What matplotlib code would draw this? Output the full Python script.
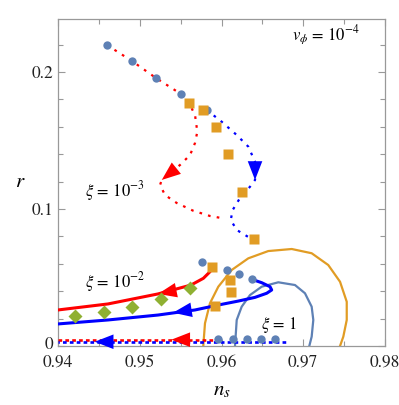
import matplotlib
matplotlib.use("Agg")
import matplotlib.pyplot as plt
import matplotlib.transforms as mtransforms

# colours (Mathematica default palette + pure red/blue)
c_blue_pt = '#5E81B5'
c_orange = '#E19C24'
c_green = '#8FB032'

# xi = 1e-3 (dotted) flows
red_dot_ns = [0.94599, 0.94905, 0.95199, 0.95505, 0.95602, 0.95676, 0.95704, 0.95676, 0.95615,
              0.95492, 0.95370, 0.95269, 0.95248, 0.95309, 0.95452, 0.95651, 0.95859, 0.96018]
red_dot_r = [0.2197, 0.2080, 0.1956, 0.1839, 0.1774, 0.1686, 0.1564, 0.1482, 0.1394,
             0.1321, 0.1263, 0.1212, 0.1175, 0.1102, 0.1044, 0.0988, 0.0949, 0.0932]
blue_dot_ns = [0.95819, 0.96002, 0.96186, 0.96328, 0.96410, 0.96416, 0.96410, 0.96349, 0.96226,
               0.96137, 0.96113, 0.96186, 0.96349, 0.96398]
blue_dot_r = [0.1723, 0.1637, 0.1540, 0.1455, 0.1345, 0.1270, 0.1212, 0.1163, 0.1080,
              0.0993, 0.0920, 0.0847, 0.0788, 0.0779]

# xi = 1e-2 (solid) flows
red_sol_ns = [0.94000, 0.94612, 0.95223, 0.95627, 0.95778, 0.95859, 0.95887]
red_sol_r = [0.0263, 0.0307, 0.0380, 0.0445, 0.0494, 0.0542, 0.0579]
blue_sol_ns = [0.94000, 0.94612, 0.95223, 0.95676, 0.95920, 0.96002, 0.96206, 0.96410, 0.96553,
               0.96614, 0.96593, 0.96492, 0.96369]
blue_sol_r = [0.0161, 0.0190, 0.0226, 0.0263, 0.0294, 0.0304, 0.0328, 0.0355, 0.0385,
              0.0409, 0.0433, 0.0462, 0.0487]

# xi = 1 (dashed) flows
red_dash_ns = [0.94000, 0.95917]
red_dash_r = [0.0046, 0.0046]
blue_dash_ns = [0.94000, 0.96798]
blue_dash_r = [0.0031, 0.0031]

# xi = 1 contour (steel blue) and outer contour (orange)
arc_blue_ns = [0.96165, 0.96186, 0.96247, 0.96349, 0.96492, 0.96695, 0.96899, 0.97021, 0.97103,
               0.97123, 0.97103, 0.97074]
arc_blue_r = [0.0, 0.0190, 0.0287, 0.0372, 0.0433, 0.0465, 0.0445, 0.0385, 0.0287, 0.0190, 0.0068, 0.0]
arc_orange_ns = [0.95777, 0.95798, 0.95859, 0.95961, 0.96125, 0.96328, 0.96572, 0.96859, 0.97103,
                 0.97306, 0.97450, 0.97532, 0.97532, 0.97490, 0.97450]
arc_orange_r = [0.0, 0.0166, 0.0312, 0.0433, 0.0555, 0.0640, 0.0693, 0.0708, 0.0677,
                0.0591, 0.0469, 0.0323, 0.0190, 0.0068, 0.0]

# markers
circ_ns = [0.94599, 0.94905, 0.95202, 0.95505, 0.95819,
           0.95765, 0.96064, 0.96218, 0.96369,
           0.95961, 0.96137, 0.96308, 0.96483, 0.96654]
circ_r = [0.2197, 0.2080, 0.1958, 0.1839, 0.1723,
          0.0615, 0.0555, 0.0523, 0.0487,
          0.0049, 0.0049, 0.0049, 0.0049, 0.0049]
sq_ns = [0.95606, 0.95770, 0.95929, 0.96083, 0.96247, 0.96401,
         0.95887, 0.96104, 0.96113, 0.95920]
sq_r = [0.1772, 0.1723, 0.1596, 0.1401, 0.1126, 0.0779,
        0.0579, 0.0482, 0.0392, 0.0294]
dia_ns = [0.94204, 0.94563, 0.94909, 0.95264, 0.95611]
dia_r = [0.0221, 0.0246, 0.0282, 0.0341, 0.0426]

# arrows: (tip, tail, colour)
arrows = [((0.95269, 0.1212), (0.95431, 0.1290), 'red'),
          ((0.96410, 0.1212), (0.96410, 0.1345), 'blue'),
          ((0.95223, 0.0380), (0.95468, 0.0410), 'red'),
          ((0.95407, 0.0243), (0.95611, 0.0262), 'blue'),
          ((0.95386, 0.0046), (0.95569, 0.0046), 'red'),
          ((0.94449, 0.0031), (0.94612, 0.0031), 'blue')]

plt.rcParams['font.family'] = 'STIXGeneral'
plt.rcParams['mathtext.fontset'] = 'stix'

fig = plt.figure(figsize=(3.99, 4.05), dpi=100)
ax = fig.add_axes([0.1454, 0.1457, 0.8195, 0.8074])

ax.plot(arc_orange_ns, arc_orange_r, color=c_orange, lw=1.6, zorder=2)
ax.plot(arc_blue_ns, arc_blue_r, color=c_blue_pt, lw=1.6, zorder=2)

ax.plot(red_dot_ns, red_dot_r, color='red', lw=1.6, ls=(0, (1.2, 2.8)), zorder=3)
ax.plot(blue_dot_ns, blue_dot_r, color='blue', lw=1.6, ls=(0, (1.2, 2.8)), zorder=3)
ax.plot(red_sol_ns, red_sol_r, color='red', lw=2.2, zorder=3)
ax.plot(blue_sol_ns, blue_sol_r, color='blue', lw=2.2, zorder=3)
ax.plot(red_dash_ns, red_dash_r, color='red', lw=1.9, ls=(0, (1.4, 1.2)), zorder=3)
ax.plot(blue_dash_ns, blue_dash_r, color='blue', lw=1.9, ls=(0.9, (1.4, 1.2)), zorder=3)

for tip, tail, col in arrows:
    ax.annotate('', xy=tip, xytext=tail,
                arrowprops=dict(arrowstyle='-|>,head_length=0.9,head_width=0.35',
                                color=col, lw=0, shrinkA=0, shrinkB=0, mutation_scale=15),
                zorder=4)

ax.plot(circ_ns, circ_r, 'o', color=c_blue_pt, ms=6, mec='none', zorder=5)
ax.plot(sq_ns, sq_r, 's', color=c_orange, ms=6.5, mec='none', zorder=5)
ax.plot(dia_ns, dia_r, 'D', color=c_green, ms=7, mec='none', zorder=5)

ax.text(0.94697, 0.1131, r'$\xi\,=\,10^{-3}$', fontsize=12, ha='center', va='center')
ax.text(0.94697, 0.0467, r'$\xi\,=\,10^{-2}$', fontsize=12, ha='center', va='center')
ax.text(0.96703, 0.0153, r'$\xi\,=\,1$', fontsize=12, ha='center', va='center')
ax.text(0.97278, 0.2270, r'$v_\phi\,=\,10^{-4}$', fontsize=12, ha='center', va='center')

ax.set_xlim(0.94, 0.98)
ax.set_ylim(0, 0.2387)
ax.set_xticks([0.94, 0.95, 0.96, 0.97, 0.98])
ax.set_xticklabels(['0.94', '0.95', '0.96', '0.97', '0.98'])
ax.set_xticks([0.945, 0.955, 0.965, 0.975], minor=True)
ax.set_yticks([0, 0.1, 0.2])
ax.set_yticklabels(['0', '0.1', '0.2'])
ax.set_yticks([0.02, 0.04, 0.06, 0.08, 0.12, 0.14, 0.16, 0.18, 0.22], minor=True)
ax.tick_params(which='both', direction='in', top=True, right=True, color='#999999',
               labelsize=12.5, labelcolor='#222222')
ax.tick_params(which='major', length=5, width=0.8)
ax.tick_params(which='minor', length=3.5, width=0.8)
ax.tick_params(axis='x', which='major', pad=6)
for s in ax.spines.values():
    s.set_color('#999999')
    s.set_linewidth(0.9)

# nudge the "0" label up a little so it clears "0.94"
zero_lab = ax.get_yticklabels()[0]
zero_lab.set_transform(zero_lab.get_transform() +
                       mtransforms.ScaledTranslation(0, 2.5 / 72, fig.dpi_scale_trans))

ax.set_xlabel(r'$n_s$', fontsize=15, va='center')
ax.set_ylabel(r'$r$', fontsize=15, rotation=0, va='center', ha='center')
ax.xaxis.set_label_coords(0.50, -0.135)
ax.yaxis.set_label_coords(-0.116, 0.50)

fig.savefig('out.png', dpi=100)
